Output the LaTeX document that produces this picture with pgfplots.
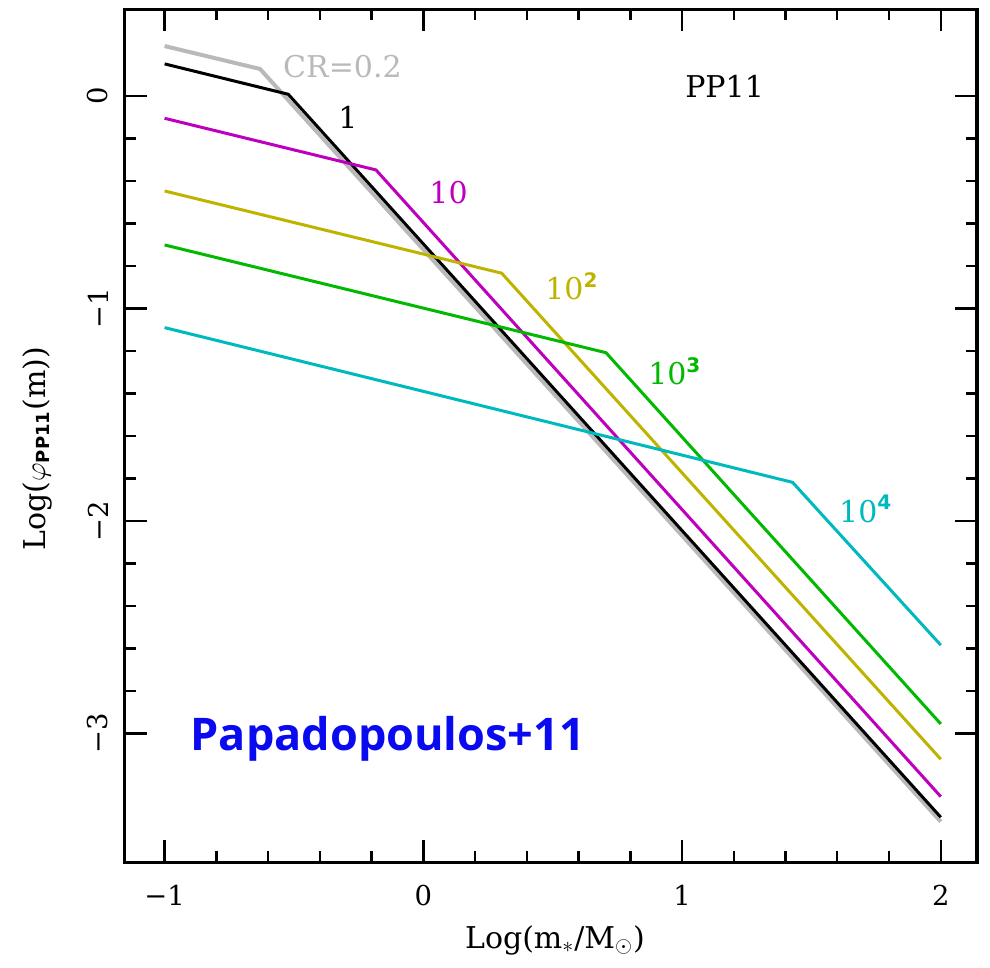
\documentclass[border=0pt]{standalone}
\usepackage{fontspec}
\setmainfont{DejaVu Serif}
\setsansfont{DejaVu Sans}
\newfontfamily\opensans{Open Sans}
\usepackage{pgfplots}
\pgfplotsset{compat=1.18}
\definecolor{cgray}{RGB}{185,185,185}
\definecolor{cmag}{RGB}{190,0,190}
\definecolor{colive}{RGB}{190,180,0}
\definecolor{cgreen}{RGB}{0,185,0}
\definecolor{ccyan}{RGB}{0,185,190}
\definecolor{cblue}{RGB}{10,10,240}
\newcommand{\sups}[1]{\raisebox{0.42em}{\fontsize{10}{12}\sffamily\bfseries #1}}
\begin{document}
\begin{tikzpicture}
\begin{axis}[
  scale only axis,
  width=426.25pt, height=426.5pt,
  xmin=-1.155, xmax=2.14,
  ymin=-3.607, ymax=0.407,
  axis line style={line width=1.6pt},
  every tick/.style={line width=1.2pt, black},
  tick align=inside,
  tick pos=both,
  major tick length=11pt,
  minor tick length=5.5pt,
  xtick={-1,0,1,2}, xticklabels={−1,0,1,2},
  ytick={-3,-2,-1,0}, yticklabels={−3,−2,−1,0},
  minor x tick num=4, minor y tick num=4,
  tick label style={font=\fontsize{13.7}{16}\selectfont},
  xticklabel style={anchor=north, inner sep=0pt},
  xticklabel shift=11pt,
  yticklabel style={rotate=90, anchor=south, inner sep=0pt},
  yticklabel shift=8pt,
  label style={font=\fontsize{15}{18}\selectfont},
  xlabel={Log(m$_*$/M$_\odot$)},
  ylabel={Log($\varphi_{\mbox{\fontsize{9}{10}\sffamily\bfseries PP11}}$(m))},
  xlabel style={at={(axis description cs:0.505,-0.0909)}, anchor=center},
  ylabel style={at={(axis description cs:-0.1026,0.485)}, anchor=center},
  clip=false,
]
\addplot[cgray, line width=2pt] coordinates {(-1,0.235) (-0.631,0.127) (2,-3.415)};
\addplot[black, line width=1.5pt] coordinates {(-1,0.151) (-0.522,0.008) (2,-3.394)};
\addplot[cmag, line width=1.5pt] coordinates {(-1,-0.105) (-0.183,-0.348) (2,-3.297)};
\addplot[colive, line width=1.5pt] coordinates {(-1,-0.447) (0.303,-0.834) (2,-3.121)};
\addplot[cgreen, line width=1.5pt] coordinates {(-1,-0.701) (0.706,-1.208) (2,-2.955)};
\addplot[ccyan, line width=1.5pt] coordinates {(-1,-1.090) (1.427,-1.818) (2,-2.584)};
\begin{scope}[every node/.style={anchor=base west, inner sep=0pt, font=\fontsize{15}{18}\selectfont}]
\node[text=cgray] at (axis cs:-0.543,0.089) {CR=0.2};
\node[text=black] at (axis cs:-0.330,-0.155) {1};
\node[text=cmag] at (axis cs:0.022,-0.508) {10};
\node[text=colive] at (axis cs:0.470,-0.960) {10\sups{2}};
\node[text=cgreen] at (axis cs:0.868,-1.360) {10\sups{3}};
\node[text=ccyan] at (axis cs:1.606,-2.005) {10\sups{4}};
\node[text=black] at (axis cs:1.011,-0.005) {PP11};
\end{scope}
\node[anchor=base west, inner sep=0pt, text=cblue, font=\opensans\bfseries\fontsize{22.5}{26}\selectfont] at (axis cs:-0.901,-3.082) {Papadopoulos+11};
\end{axis}
\pgfresetboundingbox
\path ([shift={(-62.25pt,-52.75pt)}]current axis.south west) rectangle ([shift={(6.5pt,4.75pt)}]current axis.north east);
\end{tikzpicture}
\end{document}
